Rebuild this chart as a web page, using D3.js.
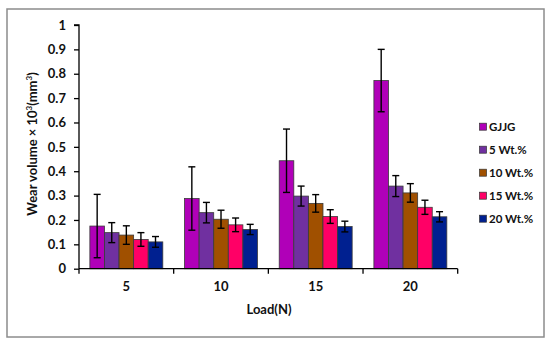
<!DOCTYPE html>
<html><head><meta charset="utf-8">
<script src="https://cdn.jsdelivr.net/npm/d3@7"></script>
<style>body{margin:0;background:#fff}svg{display:block}text{font-family:Lato,"Open Sans",sans-serif;font-weight:bold;fill:#111}</style>
</head><body><div id="chart"></div>
<script>
const categories = ["5","10","15","20"];
const seriesNames = ["GJJG","5 Wt.%","10 Wt.%","15 Wt.%","20 Wt.%"];
const colors = ["#B000B8","#7030A0","#A05000","#FF0066","#002090"];
const valGJJG = [0.175,0.288,0.443,0.772];
const val5 = [0.148,0.230,0.298,0.339];
const val10 = [0.138,0.203,0.268,0.311];
const val15 = [0.120,0.180,0.214,0.252];
const val20 = [0.110,0.161,0.173,0.213];
const errGJJG = [0.13,0.13,0.13,0.128];
const err5 = [0.041,0.042,0.041,0.043];
const err10 = [0.038,0.037,0.036,0.038];
const err15 = [0.028,0.028,0.028,0.029];
const err20 = [0.022,0.021,0.022,0.021];
const yTicks = [0,0.1,0.2,0.3,0.4,0.5,0.6,0.7,0.8,0.9,1];
const yTickLabels = ["0","0.1","0.2","0.3","0.4","0.5","0.6","0.7","0.8","0.9","1"];

const values = [valGJJG,val5,val10,val15,val20];
const errors = [errGJJG,err5,err10,err15,err20];

const W=553,H=344;
const svg = d3.select("#chart").append("svg").attr("width",W).attr("height",H);
svg.append("rect").attr("x",7).attr("y",9).attr("width",537).attr("height",328)
  .attr("fill","#fff").attr("stroke","#8c8c8c").attr("stroke-width",1.5);

const x0=79,x1=457.7,yTop=25,yBot=268.7;
const x = d3.scaleBand().domain(categories).range([x0,x1]).paddingInner(0).paddingOuter(0);
const xs = d3.scaleBand().domain(seriesNames).range([0,x.bandwidth()]).paddingInner(0).paddingOuter(0.745);
const y = d3.scaleLinear().domain([0,1]).range([yBot,yTop]);

// bars
seriesNames.forEach((s,si)=>{
  const g = svg.append("g");
  categories.forEach((c,ci)=>{
    const v = values[si][ci], e = errors[si][ci];
    const bx = x(c)+xs(s), bw = xs.bandwidth();
    g.append("rect").attr("x",bx).attr("y",y(v)).attr("width",bw).attr("height",y(0)-y(v))
      .attr("fill",colors[si]).attr("stroke","#3a3a3a").attr("stroke-width",0.8);
    const cx = bx+bw/2;
    g.append("line").attr("x1",cx).attr("x2",cx).attr("y1",y(v+e)).attr("y2",y(v-e)).attr("stroke","#000").attr("stroke-width",1.4);
    [v+e,v-e].forEach(t=>g.append("line").attr("x1",cx-3.5).attr("x2",cx+3.5).attr("y1",y(t)).attr("y2",y(t)).attr("stroke","#000").attr("stroke-width",1.4));
  });
});

// y axis
const yAxis = d3.axisLeft(y).tickValues(yTicks).tickFormat((d,i)=>yTickLabels[i]).tickSize(5).tickPadding(8);
const ya = svg.append("g").attr("transform",`translate(${x0},0)`).call(yAxis);
ya.select(".domain").attr("stroke","#000").attr("stroke-width",1.3).attr("d",`M-5,${yTop}H0V${yBot}`);
ya.selectAll(".tick line").attr("stroke","#000").attr("stroke-width",1.3);
ya.selectAll(".tick text").style("font-size","13px").style("font-family","Lato,sans-serif").style("font-weight","bold").attr("fill","#111");

// x axis
const xAxis = d3.axisBottom(x).tickSize(0).tickPadding(13);
const xa = svg.append("g").attr("transform",`translate(0,${yBot})`).call(xAxis);
xa.select(".domain").attr("stroke","#000").attr("stroke-width",1.3).attr("d",`M${x0},0H${x1}`);
xa.selectAll(".tick text").style("font-size","13px").style("font-family","Lato,sans-serif").style("font-weight","bold").attr("fill","#111");
const bounds = categories.map(c=>x(c)).concat([x1]);
xa.selectAll(".bnd").data(bounds).enter().append("line").attr("x1",d=>d).attr("x2",d=>d).attr("y1",0).attr("y2",5).attr("stroke","#000").attr("stroke-width",1.3);

// axis titles
svg.append("text").attr("x",269).attr("y",314).attr("text-anchor","middle").style("font-size","13px").text("Load(N)");
const yl = svg.append("text").attr("transform","translate(37,144) rotate(-90)").attr("text-anchor","middle").style("font-size","13px");
yl.append("tspan").text("Wear volume × 10");
yl.append("tspan").attr("dy",-5).style("font-size","8px").text("3");
yl.append("tspan").attr("dy",5).text("(mm");
yl.append("tspan").attr("dy",-5).style("font-size","8px").text("3");
yl.append("tspan").attr("dy",5).text(")");

// legend
const leg = svg.append("g");
seriesNames.forEach((s,i)=>{
  const ly = 126.7 + i*23;
  leg.append("rect").attr("x",479.5).attr("y",ly-3.5).attr("width",7).attr("height",7).attr("fill",colors[i]).attr("stroke","#333").attr("stroke-width",0.7);
  leg.append("text").attr("x",489).attr("y",ly+4).style("font-size","11.5px").text(s);
});
</script></body></html>
